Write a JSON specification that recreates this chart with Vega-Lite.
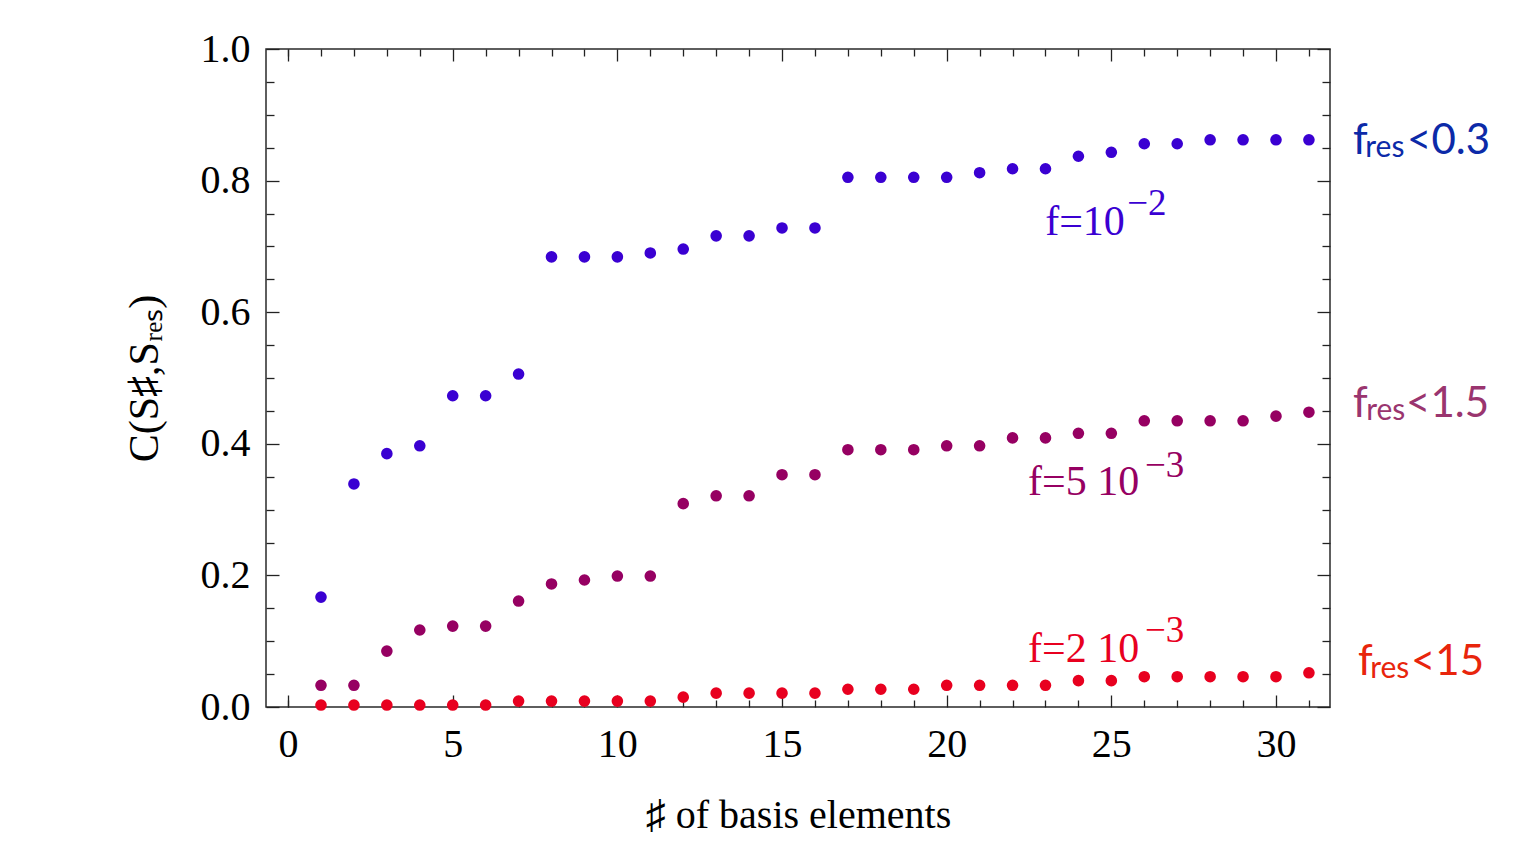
{
  "$schema": "https://vega.github.io/schema/vega-lite/v6.json",
  "autosize": "none",
  "width": 1064,
  "height": 658,
  "padding": {"left": 266, "top": 49, "right": 198, "bottom": 145},
  "background": "white",
  "config": {
    "view": {"stroke": "#2a2a2a", "strokeWidth": 1.5},
    "axis": {"domain": false, "grid": false, "tickColor": "#222", "tickWidth": 1.3, "labelFont": "Liberation Serif", "titleFont": "Liberation Serif", "labelColor": "#000", "titleColor": "#000", "titleFontWeight": "normal"}
  },
  "datasets": {
    "pts": [
      {"n":1,"s":"A","c":0.167},{"n":2,"s":"A","c":0.339},{"n":3,"s":"A","c":0.385},{"n":4,"s":"A","c":0.397},{"n":5,"s":"A","c":0.473},{"n":6,"s":"A","c":0.473},{"n":7,"s":"A","c":0.506},{"n":8,"s":"A","c":0.684},{"n":9,"s":"A","c":0.684},{"n":10,"s":"A","c":0.684},{"n":11,"s":"A","c":0.690},{"n":12,"s":"A","c":0.696},{"n":13,"s":"A","c":0.716},{"n":14,"s":"A","c":0.716},{"n":15,"s":"A","c":0.728},{"n":16,"s":"A","c":0.728},{"n":17,"s":"A","c":0.805},{"n":18,"s":"A","c":0.805},{"n":19,"s":"A","c":0.805},{"n":20,"s":"A","c":0.805},{"n":21,"s":"A","c":0.812},{"n":22,"s":"A","c":0.818},{"n":23,"s":"A","c":0.818},{"n":24,"s":"A","c":0.837},{"n":25,"s":"A","c":0.843},{"n":26,"s":"A","c":0.856},{"n":27,"s":"A","c":0.856},{"n":28,"s":"A","c":0.862},{"n":29,"s":"A","c":0.862},{"n":30,"s":"A","c":0.862},{"n":31,"s":"A","c":0.862},
      {"n":1,"s":"B","c":0.033},{"n":2,"s":"B","c":0.033},{"n":3,"s":"B","c":0.085},{"n":4,"s":"B","c":0.117},{"n":5,"s":"B","c":0.123},{"n":6,"s":"B","c":0.123},{"n":7,"s":"B","c":0.161},{"n":8,"s":"B","c":0.187},{"n":9,"s":"B","c":0.193},{"n":10,"s":"B","c":0.199},{"n":11,"s":"B","c":0.199},{"n":12,"s":"B","c":0.309},{"n":13,"s":"B","c":0.321},{"n":14,"s":"B","c":0.321},{"n":15,"s":"B","c":0.353},{"n":16,"s":"B","c":0.353},{"n":17,"s":"B","c":0.391},{"n":18,"s":"B","c":0.391},{"n":19,"s":"B","c":0.391},{"n":20,"s":"B","c":0.397},{"n":21,"s":"B","c":0.397},{"n":22,"s":"B","c":0.409},{"n":23,"s":"B","c":0.409},{"n":24,"s":"B","c":0.416},{"n":25,"s":"B","c":0.416},{"n":26,"s":"B","c":0.435},{"n":27,"s":"B","c":0.435},{"n":28,"s":"B","c":0.435},{"n":29,"s":"B","c":0.435},{"n":30,"s":"B","c":0.442},{"n":31,"s":"B","c":0.448},
      {"n":1,"s":"C","c":0.003},{"n":2,"s":"C","c":0.003},{"n":3,"s":"C","c":0.003},{"n":4,"s":"C","c":0.003},{"n":5,"s":"C","c":0.003},{"n":6,"s":"C","c":0.003},{"n":7,"s":"C","c":0.009},{"n":8,"s":"C","c":0.009},{"n":9,"s":"C","c":0.009},{"n":10,"s":"C","c":0.009},{"n":11,"s":"C","c":0.009},{"n":12,"s":"C","c":0.015},{"n":13,"s":"C","c":0.021},{"n":14,"s":"C","c":0.021},{"n":15,"s":"C","c":0.021},{"n":16,"s":"C","c":0.021},{"n":17,"s":"C","c":0.027},{"n":18,"s":"C","c":0.027},{"n":19,"s":"C","c":0.027},{"n":20,"s":"C","c":0.033},{"n":21,"s":"C","c":0.033},{"n":22,"s":"C","c":0.033},{"n":23,"s":"C","c":0.033},{"n":24,"s":"C","c":0.040},{"n":25,"s":"C","c":0.040},{"n":26,"s":"C","c":0.046},{"n":27,"s":"C","c":0.046},{"n":28,"s":"C","c":0.046},{"n":29,"s":"C","c":0.046},{"n":30,"s":"C","c":0.046},{"n":31,"s":"C","c":0.052}
    ],
    "bigsans": [
      {"x":32.34,"y":0.840,"t":"f","s":"L1"},{"x":33.98,"y":0.840,"t":"<0.3","s":"L1"},
      {"x":32.34,"y":0.441,"t":"f","s":"L2"},{"x":33.95,"y":0.441,"t":"<1.5","s":"L2"},
      {"x":32.49,"y":0.049,"t":"f","s":"L3"},{"x":34.10,"y":0.049,"t":"<15","s":"L3"}
    ],
    "smallsans": [
      {"x":32.71,"y":0.836,"t":"res","s":"L1"},
      {"x":32.74,"y":0.436,"t":"res","s":"L2"},
      {"x":32.86,"y":0.044,"t":"res","s":"L3"}
    ],
    "bigserif": [
      {"x":22.99,"y":0.717,"t":"f=10","s":"A"},
      {"x":22.47,"y":0.322,"t":"f=5  10","s":"B"},
      {"x":22.47,"y":0.068,"t":"f=2  10","s":"C"}
    ],
    "smallserif": [
      {"x":25.48,"y":0.747,"t":"−2","s":"A"},
      {"x":26.02,"y":0.350,"t":"−3","s":"B"},
      {"x":26.02,"y":0.099,"t":"−3","s":"C"}
    ]
  },
  "resolve": {"axis": {"x": "independent", "y": "independent"}},
  "layer": [
    {
      "data": {"name": "pts"},
      "mark": {"type": "circle", "size": 135, "opacity": 1},
      "encoding": {
        "x": {"field": "n", "type": "quantitative", "scale": {"domain": [-0.67, 31.64], "nice": false, "zero": false},
              "axis": {"orient": "bottom", "values": [0,5,10,15,20,25,30], "ticks": false, "labelFontSize": 40, "labelPadding": 17, "title": null, "labelFlush": false}},
        "y": {"field": "c", "type": "quantitative", "scale": {"domain": [0, 1], "nice": false, "zero": false},
              "axis": {"orient": "left", "values": [0,0.2,0.4,0.6,0.8,1.0], "format": ".1f", "ticks": false, "labelFontSize": 40, "labelPadding": 16, "title": null, "labelFlush": false}},
        "color": {"field": "s", "type": "nominal", "legend": null,
                  "scale": {"domain": ["A","B","C","L1","L2","L3"], "range": ["#3a00d2","#960062","#e8001f","#0c2aa8","#9a356f","#e8250c"]}}
      }
    },
    {
      "data": {"name": "pts"},
      "mark": {"type": "point", "opacity": 0},
      "encoding": {
        "x": {"field": "n", "type": "quantitative", "scale": {"domain": [-0.67, 31.64], "nice": false, "zero": false},
              "axis": {"orient": "bottom", "labels": false, "ticks": false, "title": "♯ of  basis elements", "titleFontSize": 40, "titlePadding": 88}},
        "y": {"field": "c", "type": "quantitative", "scale": {"domain": [0, 1], "nice": false, "zero": false},
              "axis": {"orient": "left", "labels": false, "ticks": false, "title": "C(S♯,Sᵣₑₛ)", "titleFontSize": 42, "titlePadding": 100}}
      }
    },
    {
      "data": {"name": "bigsans"},
      "mark": {"type": "text", "font": "Lato", "fontSize": 42, "align": "left", "baseline": "alphabetic"},
      "encoding": {
        "x": {"field": "x", "type": "quantitative", "scale": {"domain": [-0.67, 31.64], "nice": false, "zero": false},
              "axis": {"orient": "bottom", "values": [0,5,10,15,20,25,30], "labels": false, "tickSize": -12, "title": null}},
        "y": {"field": "y", "type": "quantitative", "scale": {"domain": [0, 1], "nice": false, "zero": false},
              "axis": {"orient": "left", "values": [0,0.2,0.4,0.6,0.8,1.0], "labels": false, "tickSize": -13, "title": null}},
        "text": {"field": "t"},
        "color": {"field": "s", "type": "nominal", "legend": null}
      }
    },
    {
      "data": {"name": "smallsans"},
      "mark": {"type": "text", "font": "Lato", "fontSize": 30, "align": "left", "baseline": "alphabetic"},
      "encoding": {
        "x": {"field": "x", "type": "quantitative", "scale": {"domain": [-0.67, 31.64], "nice": false, "zero": false},
              "axis": {"orient": "bottom", "values": [0,1,2,3,4,6,7,8,9,11,12,13,14,16,17,18,19,21,22,23,24,26,27,28,29,31], "labels": false, "tickSize": -7, "title": null}},
        "y": {"field": "y", "type": "quantitative", "scale": {"domain": [0, 1], "nice": false, "zero": false},
              "axis": {"orient": "left", "values": [0.05,0.1,0.15,0.25,0.3,0.35,0.45,0.5,0.55,0.65,0.7,0.75,0.85,0.9,0.95], "labels": false, "tickSize": -8, "title": null}},
        "text": {"field": "t"},
        "color": {"field": "s", "type": "nominal", "legend": null}
      }
    },
    {
      "data": {"name": "bigserif"},
      "mark": {"type": "text", "font": "Liberation Serif", "fontSize": 42, "align": "left", "baseline": "alphabetic"},
      "encoding": {
        "x": {"field": "x", "type": "quantitative", "scale": {"domain": [-0.67, 31.64], "nice": false, "zero": false},
              "axis": {"orient": "top", "values": [0,5,10,15,20,25,30], "labels": false, "tickSize": -12, "title": null}},
        "y": {"field": "y", "type": "quantitative", "scale": {"domain": [0, 1], "nice": false, "zero": false},
              "axis": {"orient": "right", "values": [0,0.2,0.4,0.6,0.8,1.0], "labels": false, "tickSize": -13, "title": null}},
        "text": {"field": "t"},
        "color": {"field": "s", "type": "nominal", "legend": null}
      }
    },
    {
      "data": {"name": "smallserif"},
      "mark": {"type": "text", "font": "Liberation Serif", "fontSize": 37, "align": "left", "baseline": "alphabetic"},
      "encoding": {
        "x": {"field": "x", "type": "quantitative", "scale": {"domain": [-0.67, 31.64], "nice": false, "zero": false},
              "axis": {"orient": "top", "values": [0,1,2,3,4,6,7,8,9,11,12,13,14,16,17,18,19,21,22,23,24,26,27,28,29,31], "labels": false, "tickSize": -7, "title": null}},
        "y": {"field": "y", "type": "quantitative", "scale": {"domain": [0, 1], "nice": false, "zero": false},
              "axis": {"orient": "right", "values": [0.05,0.1,0.15,0.25,0.3,0.35,0.45,0.5,0.55,0.65,0.7,0.75,0.85,0.9,0.95], "labels": false, "tickSize": -8, "title": null}},
        "text": {"field": "t"},
        "color": {"field": "s", "type": "nominal", "legend": null}
      }
    }
  ]
}
